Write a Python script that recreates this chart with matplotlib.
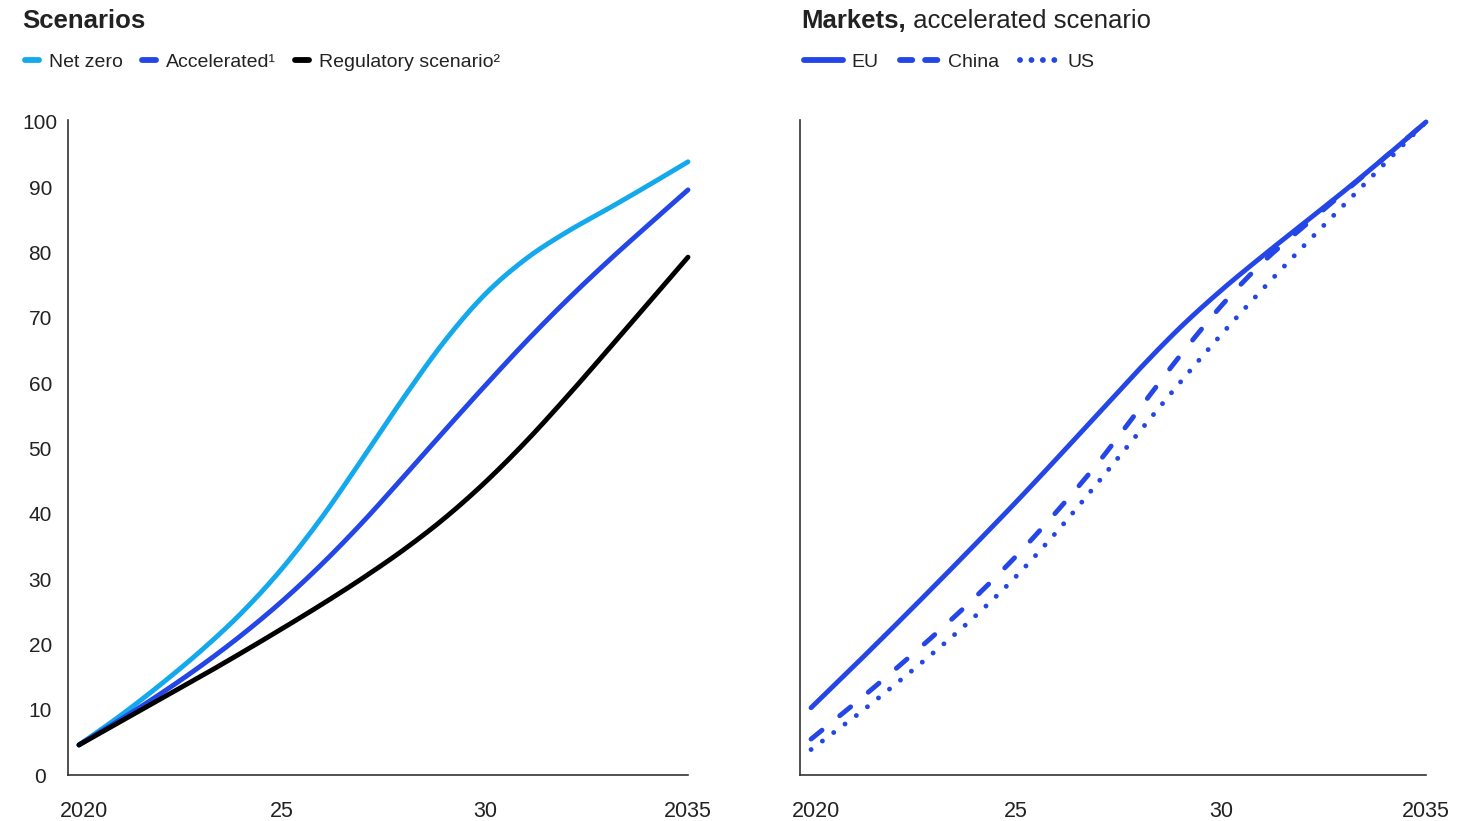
import numpy as np
import matplotlib
matplotlib.use("Agg")
import matplotlib.pyplot as plt
from matplotlib.transforms import ScaledTranslation

plt.rcParams["font.family"] = ["Liberation Sans", "DejaVu Sans"]

# ---- data -------------------------------------------------------------
years = [2020, 2021, 2022, 2023, 2024, 2025, 2026, 2027,
         2028, 2029, 2030, 2031, 2032, 2033, 2034, 2035]

net_zero = [4.6, 9.0, 13.8, 19.0, 24.8, 31.6, 39.6, 48.6,
            57.8, 66.4, 73.6, 79.0, 83.1, 86.6, 90.2, 93.9]
accelerated = [4.6, 8.4, 12.4, 16.7, 21.4, 26.6, 32.4, 38.8,
               45.7, 52.7, 59.6, 66.3, 72.6, 78.5, 84.1, 89.6]
regulatory = [4.6, 8.1, 11.6, 15.1, 18.7, 22.4, 26.2, 30.2,
              34.5, 39.3, 44.8, 51.0, 57.8, 64.9, 72.1, 79.3]

eu = [10.3, 16.4, 22.6, 28.9, 35.3, 41.8, 48.5, 55.3,
      62.1, 68.5, 74.2, 79.4, 84.4, 89.4, 94.6, 100.0]
china = [5.5, 10.6, 15.9, 21.4, 27.2, 33.5, 40.4, 47.8,
         56.0, 64.2, 71.8, 78.4, 83.9, 89.2, 94.6, 100.0]
us = [3.9, 8.6, 13.6, 18.8, 24.3, 30.4, 37.3, 44.8,
      52.5, 60.1, 67.4, 74.3, 80.9, 87.3, 93.7, 100.0]

x_ticks = [2020, 2025, 2030, 2035]
x_ticklabels = ["2020", "25", "30", "2035"]
y_ticks = [0, 10, 20, 30, 40, 50, 60, 70, 80, 90, 100]

scenario_labels = ["Net zero", "Accelerated\u00b9", "Regulatory scenario\u00b2"]
market_labels = ["EU", "China", "US"]

# ---- style ------------------------------------------------------------
C_NETZERO = "#13a9ec"
C_BLUE = "#2446e6"
C_BLACK = "#000000"
TEXT = "#222222"
LW = 3.5


def smooth(xs, ys, n=24):
    """Catmull-Rom curve through the given points (for drawing only)."""
    x = np.asarray(xs, float)
    y = np.asarray(ys, float)
    px = np.concatenate([[2 * x[0] - x[1]], x, [2 * x[-1] - x[-2]]])
    py = np.concatenate([[2 * y[0] - y[1]], y, [2 * y[-1] - y[-2]]])
    ox, oy = [], []
    t = np.linspace(0, 1, n, endpoint=False)
    for i in range(1, len(px) - 2):
        for arr, out in ((px, ox), (py, oy)):
            p0, p1, p2, p3 = arr[i - 1], arr[i], arr[i + 1], arr[i + 2]
            out.extend(0.5 * (2 * p1 + (-p0 + p2) * t
                              + (2 * p0 - 5 * p1 + 4 * p2 - p3) * t ** 2
                              + (-p0 + 3 * p1 - 3 * p2 + p3) * t ** 3))
    ox.append(x[-1])
    oy.append(y[-1])
    return np.array(ox), np.array(oy)


W, H = 1481, 821
fig = plt.figure(figsize=(W / 100, H / 100), dpi=100)
fig.patch.set_facecolor("white")

ax1 = fig.add_axes([68 / W, 1 - 775 / H, 620 / W, 655 / H])
ax2 = fig.add_axes([800 / W, 1 - 775 / H, 626 / W, 655 / H])


def style_axes(ax, show_y):
    ax.set_xlim(2019.73, 2034.96)
    ax.set_ylim(0, 100.3)
    for s in ("top", "right"):
        ax.spines[s].set_visible(False)
    for s in ("left", "bottom"):
        ax.spines[s].set_color("#333333")
        ax.spines[s].set_linewidth(1.2)
    ax.set_xticks(x_ticks)
    ax.set_xticklabels(x_ticklabels)
    ax.tick_params(axis="x", length=0, pad=19, labelsize=15.5, labelcolor=TEXT)
    # the first year label sits slightly right of its tick
    first = ax.get_xticklabels()[0]
    first.set_transform(first.get_transform()
                        + ScaledTranslation(5 / 100, 0, fig.dpi_scale_trans))
    ax.set_yticks(y_ticks)
    if show_y:
        ax.tick_params(axis="y", length=0, pad=20, labelsize=15, labelcolor=TEXT)
        for lab in ax.get_yticklabels():
            lab.set_horizontalalignment("center")
    else:
        ax.tick_params(axis="y", length=0, labelleft=False)


style_axes(ax1, True)
style_axes(ax2, False)

# ---- left panel: scenarios ---------------------------------------------
for vals, col, lab, z in ((net_zero, C_NETZERO, scenario_labels[0], 3),
                          (accelerated, C_BLUE, scenario_labels[1], 4),
                          (regulatory, C_BLACK, scenario_labels[2], 5)):
    sx, sy = smooth(years, vals)
    ax1.plot(sx, sy, color=col, lw=LW, solid_capstyle="round",
             label=lab, clip_on=False, zorder=z)

# ---- right panel: markets ----------------------------------------------
sx, sy = smooth(years, eu)
ax2.plot(sx, sy, color=C_BLUE, lw=LW, solid_capstyle="round",
         label=market_labels[0], clip_on=False)
sx, sy = smooth(years, china)
ax2.plot(sx, sy, color=C_BLUE, lw=LW, dashes=(2.9, 4.7),
         dash_capstyle="round", label=market_labels[1], clip_on=False)
sx, sy = smooth(years, us)
ax2.plot(sx, sy, color=C_BLUE, lw=LW, dashes=(0.01, 2.9),
         dash_capstyle="round", label=market_labels[2], clip_on=False)

# ---- titles ------------------------------------------------------------
fig.text(22 / W, 1 - 21 / H, "Scenarios", fontsize=18.5, fontweight="bold",
         color=TEXT, va="center", ha="left")
t_bold = fig.text(801 / W, 1 - 21 / H, "Markets,", fontsize=18.5,
                  fontweight="bold", color=TEXT, va="center", ha="left")
ax2.annotate(" accelerated scenario", xy=(1, 0), xycoords=t_bold,
             va="bottom", ha="left", fontsize=18.5, color=TEXT,
             annotation_clip=False)

# ---- legends -----------------------------------------------------------
leg1 = ax1.legend(loc="center left", bbox_to_anchor=(25 / W, 1 - 62 / H),
                  bbox_transform=fig.transFigure, ncol=3, frameon=False,
                  fontsize=14, handlelength=0.72, handletextpad=0.52,
                  columnspacing=0.98, borderpad=0, borderaxespad=0,
                  labelcolor=TEXT)
for h in leg1.legend_handles:
    h.set_linewidth(4.2)
    h.set_solid_capstyle("round")

leg2 = ax2.legend(loc="center left", bbox_to_anchor=(804 / W, 1 - 62 / H),
                  bbox_transform=fig.transFigure, ncol=3, frameon=False,
                  fontsize=14, handlelength=2.0, handletextpad=0.45,
                  columnspacing=1.1, borderpad=0, borderaxespad=0,
                  labelcolor=TEXT)
h_eu, h_cn, h_us = leg2.legend_handles
for h in leg2.legend_handles:
    h.set_linewidth(4.2)
h_eu.set_solid_capstyle("round")
h_cn.set_dashes((2.1, 2.2))
h_us.set_dashes((0.01, 1.95))

fig.savefig("out.png", dpi=100, facecolor="white")
